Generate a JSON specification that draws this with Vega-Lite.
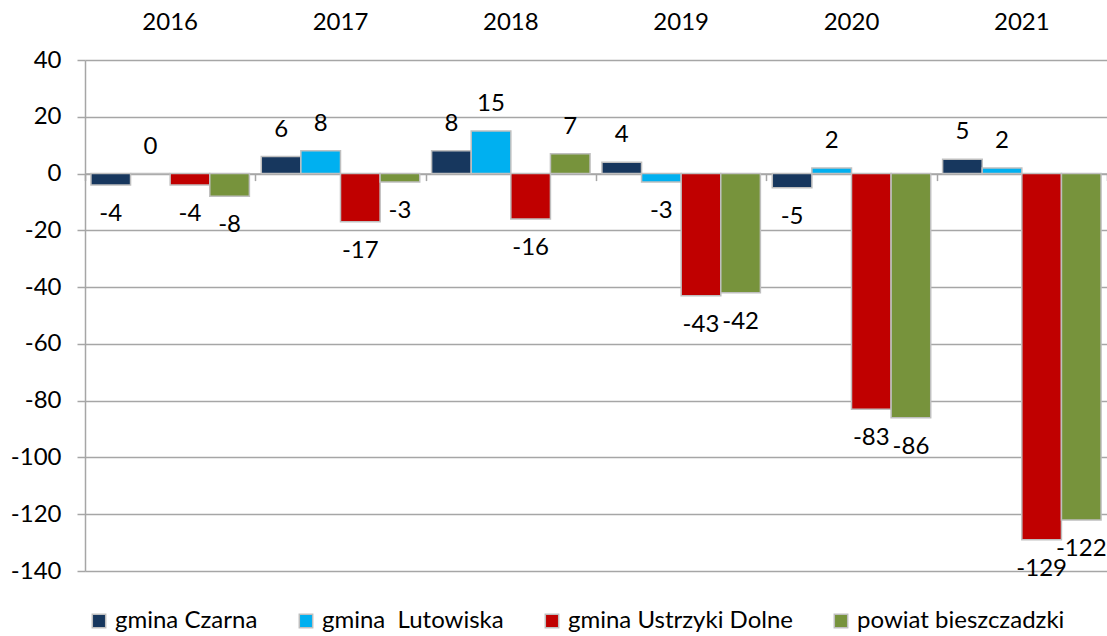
{
  "$schema": "https://vega.github.io/schema/vega-lite/v6.json",
  "width": 1022,
  "height": 511,
  "autosize": "none",
  "padding": {"left": 85, "top": 60, "right": 0, "bottom": 65},
  "background": "white",
  "config": {"font": "Lato", "view": {"stroke": null}},
  "data": {
    "values": [
      {"year": "2016", "series": "gmina Czarna", "value": -4},
      {"year": "2016", "series": "gmina  Lutowiska", "value": 0},
      {"year": "2016", "series": "gmina Ustrzyki Dolne", "value": -4},
      {"year": "2016", "series": "powiat bieszczadzki", "value": -8},
      {"year": "2017", "series": "gmina Czarna", "value": 6},
      {"year": "2017", "series": "gmina  Lutowiska", "value": 8},
      {"year": "2017", "series": "gmina Ustrzyki Dolne", "value": -17},
      {"year": "2017", "series": "powiat bieszczadzki", "value": -3},
      {"year": "2018", "series": "gmina Czarna", "value": 8},
      {"year": "2018", "series": "gmina  Lutowiska", "value": 15},
      {"year": "2018", "series": "gmina Ustrzyki Dolne", "value": -16},
      {"year": "2018", "series": "powiat bieszczadzki", "value": 7},
      {"year": "2019", "series": "gmina Czarna", "value": 4},
      {"year": "2019", "series": "gmina  Lutowiska", "value": -3},
      {"year": "2019", "series": "gmina Ustrzyki Dolne", "value": -43},
      {"year": "2019", "series": "powiat bieszczadzki", "value": -42},
      {"year": "2020", "series": "gmina Czarna", "value": -5},
      {"year": "2020", "series": "gmina  Lutowiska", "value": 2},
      {"year": "2020", "series": "gmina Ustrzyki Dolne", "value": -83},
      {"year": "2020", "series": "powiat bieszczadzki", "value": -86},
      {"year": "2021", "series": "gmina Czarna", "value": 5},
      {"year": "2021", "series": "gmina  Lutowiska", "value": 2},
      {"year": "2021", "series": "gmina Ustrzyki Dolne", "value": -129},
      {"year": "2021", "series": "powiat bieszczadzki", "value": -122}
    ]
  },
  "resolve": {"axis": {"x": "independent"}},
  "layer": [
    {
      "mark": {"type": "bar", "stroke": "#bfbfbf", "strokeWidth": 1.5},
      "encoding": {
        "x": {
          "field": "year", "type": "nominal",
          "scale": {"paddingInner": 0, "paddingOuter": 0},
          "axis": {"orient": "top", "title": null, "labelAngle": 0, "ticks": false, "tickSize": 0, "domain": false, "grid": false, "labelPadding": 26, "labelFontSize": 24, "labelColor": "black"}
        },
        "xOffset": {
          "field": "series", "type": "nominal",
          "scale": {"domain": ["gmina Czarna", "gmina  Lutowiska", "gmina Ustrzyki Dolne", "powiat bieszczadzki"], "paddingOuter": 0.15, "paddingInner": 0}
        },
        "y": {
          "field": "value", "type": "quantitative",
          "scale": {"domain": [-140, 40], "nice": false, "zero": false},
          "axis": {"title": null, "values": [-140, -120, -100, -80, -60, -40, -20, 0, 20, 40], "labelExpr": "datum.value + ''", "grid": true, "gridColor": "#a6a6a6", "gridWidth": 1.5, "domainColor": "#a6a6a6", "domainWidth": 1.5, "tickColor": "#a6a6a6", "tickWidth": 1.5, "tickSize": 8, "labelFontSize": 24, "labelColor": "black", "labelPadding": 16}
        },
        "color": {
          "field": "series", "type": "nominal",
          "scale": {"domain": ["gmina Czarna", "gmina  Lutowiska", "gmina Ustrzyki Dolne", "powiat bieszczadzki"], "range": ["#17375E", "#00B0F0", "#C00000", "#77933C"]},
          "legend": {"orient": "none", "legendX": 2, "legendY": 549, "direction": "horizontal", "title": null, "labelExpr": "replace(datum.label, '  ', '\u00a0 ')", "labelFontSize": 24, "labelColor": "black", "labelLimit": 0, "symbolType": "square", "symbolSize": 180, "symbolStrokeColor": "#bfbfbf", "symbolStrokeWidth": 1.5, "columnPadding": 36, "labelOffset": 4}
        }
      }
    },
    {
      "transform": [{"filter": "datum.value >= 0"}],
      "mark": {"type": "text", "fontSize": 24, "color": "black", "baseline": "middle", "dy": -27},
      "encoding": {
        "x": {
          "field": "year", "type": "nominal",
          "axis": {"orient": "bottom", "offset": -397.4, "title": null, "labels": false, "grid": false, "tickBand": "extent", "tickColor": "#a6a6a6", "tickWidth": 1.5, "tickSize": 7, "domainColor": "#a6a6a6", "domainWidth": 1.5}
        },
        "xOffset": {"field": "series", "type": "nominal"},
        "y": {"field": "value", "type": "quantitative", "title": null},
        "text": {"field": "value", "type": "nominal"}
      }
    },
    {
      "transform": [{"filter": "datum.value < 0"}],
      "mark": {"type": "text", "fontSize": 24, "color": "black", "baseline": "middle", "dy": 29},
      "encoding": {
        "x": {"field": "year", "type": "nominal", "axis": null},
        "xOffset": {"field": "series", "type": "nominal"},
        "y": {"field": "value", "type": "quantitative", "title": null},
        "text": {"field": "value", "type": "nominal"}
      }
    }
  ]
}
